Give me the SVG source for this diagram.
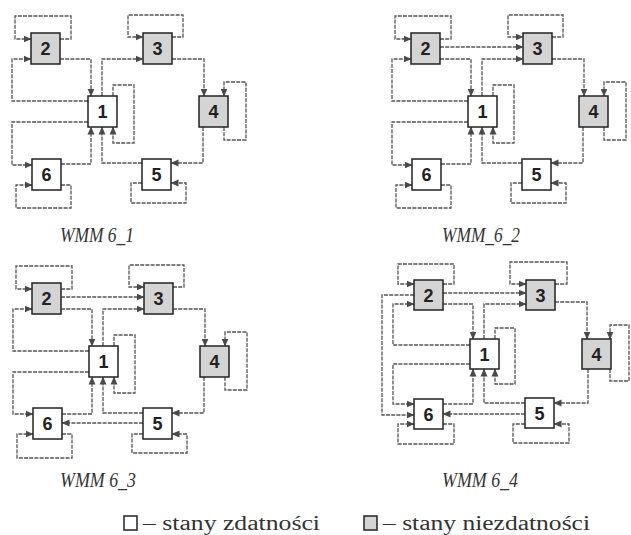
<svg xmlns="http://www.w3.org/2000/svg" width="631" height="535" viewBox="0 0 631 535">
<defs>
<marker id="ah" markerUnits="userSpaceOnUse" markerWidth="8" markerHeight="8" refX="7.5" refY="4" orient="auto">
<path d="M0,0.5 L8,4 L0,7.5 z" fill="#4a4a4a"/>
</marker>
</defs>
<style>
.c{fill:none;stroke:#555;stroke-width:1.3;stroke-dasharray:4 1.2;marker-end:url(#ah)}
.w{fill:#fff;stroke:#222;stroke-width:1.5}
.g{fill:#d4d4d4;stroke:#222;stroke-width:1.5}
.n{font-family:"Liberation Sans",Arial,sans-serif;font-weight:bold;font-size:18px;fill:#222;text-anchor:middle}
.cap{font-family:"Liberation Serif","Times New Roman",serif;font-style:italic;font-size:20px;fill:#333}
.leg{font-family:"Liberation Serif","Times New Roman",serif;font-size:20px;fill:#333}
</style>
<rect width="631" height="535" fill="#fff"/>

<!-- Quadrant 1 -->
<g id="q1">
<g id="q1-connectors">
<path class="c" d="M60,39 H71 V16 H15 V39 H31"/>
<path class="c" d="M60,59 H91 V96"/>
<path class="c" d="M88,101 H12 V59 H31"/>
<path class="c" d="M102,96 V59 H143"/>
<path class="c" d="M172,37 H183 V15 H128 V37 H143"/>
<path class="c" d="M172,59 H204 V96"/>
<path class="c" d="M224,127 V140 H246 V82 H224 V96"/>
<path class="c" d="M203,127 V163 H171"/>
<path class="c" d="M142,183 H131 V203 H186 V183 H171"/>
<path class="c" d="M142,163 H102 V127"/>
<path class="c" d="M113,96 V85 H134 V143 H113 V127"/>
<path class="c" d="M88,122 H12 V165 H32"/>
<path class="c" d="M61,185 H71 V208 H16 V185 H32"/>
<path class="c" d="M61,164 H91 V127"/>
</g>
<g id="q1-n1"><rect class="w" x="88" y="96" width="29" height="31"/><text class="n" x="102.5" y="118">1</text></g>
<g id="q1-n2"><rect class="g" x="31" y="33" width="29" height="31"/><text class="n" x="45.5" y="55">2</text></g>
<g id="q1-n3"><rect class="g" x="143" y="33" width="29" height="31"/><text class="n" x="157.5" y="55">3</text></g>
<g id="q1-n4"><rect class="g" x="199" y="96" width="29" height="31"/><text class="n" x="213.5" y="118">4</text></g>
<g id="q1-n5"><rect class="w" x="142" y="159" width="29" height="31"/><text class="n" x="156.5" y="181">5</text></g>
<g id="q1-n6"><rect class="w" x="32" y="159" width="29" height="31"/><text class="n" x="46.5" y="181">6</text></g>
<text class="cap" x="60" y="242" textLength="74" lengthAdjust="spacingAndGlyphs">WMM 6_1</text>
</g>

<!-- Quadrant 2 -->
<g id="q2" transform="translate(380,0)">
<g id="q2-connectors">
<path class="c" d="M60,39 H71 V16 H15 V39 H31"/>
<path class="c" d="M60,59 H91 V96"/>
<path class="c" d="M60,47 H143"/>
<path class="c" d="M88,101 H12 V59 H31"/>
<path class="c" d="M102,96 V59 H143"/>
<path class="c" d="M172,37 H183 V15 H128 V37 H143"/>
<path class="c" d="M172,59 H204 V96"/>
<path class="c" d="M224,127 V140 H246 V82 H224 V96"/>
<path class="c" d="M203,127 V163 H171"/>
<path class="c" d="M142,183 H131 V203 H186 V183 H171"/>
<path class="c" d="M142,163 H102 V127"/>
<path class="c" d="M113,96 V85 H134 V143 H113 V127"/>
<path class="c" d="M88,122 H12 V165 H32"/>
<path class="c" d="M61,185 H71 V208 H16 V185 H32"/>
<path class="c" d="M61,164 H91 V127"/>
</g>
<g id="q2-n1"><rect class="w" x="88" y="96" width="29" height="31"/><text class="n" x="102.5" y="118">1</text></g>
<g id="q2-n2"><rect class="g" x="31" y="33" width="29" height="31"/><text class="n" x="45.5" y="55">2</text></g>
<g id="q2-n3"><rect class="g" x="143" y="33" width="29" height="31"/><text class="n" x="157.5" y="55">3</text></g>
<g id="q2-n4"><rect class="g" x="199" y="96" width="29" height="31"/><text class="n" x="213.5" y="118">4</text></g>
<g id="q2-n5"><rect class="w" x="142" y="159" width="29" height="31"/><text class="n" x="156.5" y="181">5</text></g>
<g id="q2-n6"><rect class="w" x="32" y="159" width="29" height="31"/><text class="n" x="46.5" y="181">6</text></g>
<text class="cap" x="62" y="242" textLength="78" lengthAdjust="spacingAndGlyphs">WMM_6_2</text>
</g>

<!-- Quadrant 3 -->
<g id="q3" transform="translate(1,250)">
<g id="q3-connectors">
<path class="c" d="M60,39 H71 V16 H15 V39 H31"/>
<path class="c" d="M60,59 H91 V96"/>
<path class="c" d="M60,47 H143"/>
<path class="c" d="M88,101 H12 V59 H31"/>
<path class="c" d="M102,96 V59 H143"/>
<path class="c" d="M172,37 H183 V15 H128 V37 H143"/>
<path class="c" d="M172,59 H204 V96"/>
<path class="c" d="M224,127 V140 H246 V82 H224 V96"/>
<path class="c" d="M203,127 V163 H171"/>
<path class="c" d="M142,184 H131 V203 H186 V184 H171"/>
<path class="c" d="M142,163 H102 V127"/>
<path class="c" d="M142,173 H61"/>
<path class="c" d="M113,96 V85 H134 V143 H113 V127"/>
<path class="c" d="M88,122 H12 V164 H32"/>
<path class="c" d="M61,184 H71 V208 H16 V184 H32"/>
<path class="c" d="M61,164 H91 V127"/>
</g>
<g id="q3-n1"><rect class="w" x="88" y="96" width="29" height="31"/><text class="n" x="102.5" y="118">1</text></g>
<g id="q3-n2"><rect class="g" x="31" y="33" width="29" height="31"/><text class="n" x="45.5" y="55">2</text></g>
<g id="q3-n3"><rect class="g" x="143" y="33" width="29" height="31"/><text class="n" x="157.5" y="55">3</text></g>
<g id="q3-n4"><rect class="g" x="199" y="96" width="29" height="31"/><text class="n" x="213.5" y="118">4</text></g>
<g id="q3-n5"><rect class="w" x="142" y="158" width="29" height="31"/><text class="n" x="156.5" y="180">5</text></g>
<g id="q3-n6"><rect class="w" x="32" y="158" width="29" height="31"/><text class="n" x="46.5" y="180">6</text></g>
<text class="cap" x="59" y="237" textLength="76" lengthAdjust="spacingAndGlyphs">WMM 6_3</text>
</g>

<!-- Quadrant 4 -->
<g id="q4">
<g id="q4-connectors">
<path class="c" d="M443,284 H454 V264 H398 V284 H414"/>
<path class="c" d="M443,293 H526"/>
<path class="c" d="M443,304 H473 V339"/>
<path class="c" d="M484,339 V304 H526"/>
<path class="c" d="M555,284 H567 V262 H510 V284 H526"/>
<path class="c" d="M555,302 H587 V339"/>
<path class="c" d="M610,369 V381 H629 V325 H610 V339"/>
<path class="c" d="M588,369 V403 H554"/>
<path class="c" d="M525,424 H513 V443 H569 V424 H554"/>
<path class="c" d="M525,403 H484 V369"/>
<path class="c" d="M525,414 H443"/>
<path class="c" d="M495,339 V328 H515 V384 H495 V369"/>
<path class="c" d="M443,404 H473 V369"/>
<path class="c" d="M470,345 H393 V304 H414"/>
<path class="c" d="M470,364 H393 V404 H414"/>
<path class="c" d="M414,295 H382 V415 H414"/>
<path class="c" d="M443,424 H454 V444 H398 V424 H414"/>
</g>
<g id="q4-n1"><rect class="w" x="470" y="339" width="29" height="30"/><text class="n" x="484.5" y="360.5">1</text></g>
<g id="q4-n2"><rect class="g" x="414" y="280" width="29" height="30"/><text class="n" x="428.5" y="301.5">2</text></g>
<g id="q4-n3"><rect class="g" x="526" y="280" width="29" height="30"/><text class="n" x="540.5" y="301.5">3</text></g>
<g id="q4-n4"><rect class="g" x="582" y="339" width="29" height="30"/><text class="n" x="596.5" y="360.5">4</text></g>
<g id="q4-n5"><rect class="w" x="525" y="398" width="29" height="30"/><text class="n" x="539.5" y="419.5">5</text></g>
<g id="q4-n6"><rect class="w" x="414" y="399" width="29" height="30"/><text class="n" x="428.5" y="420.5">6</text></g>
<text class="cap" x="442" y="487" textLength="76" lengthAdjust="spacingAndGlyphs">WMM 6_4</text>
</g>

<!-- Legend -->
<g id="legend">
<rect class="w" x="124" y="516" width="13" height="14" stroke-width="1.2"/>
<text class="leg" x="143" y="530" textLength="177" lengthAdjust="spacingAndGlyphs">– stany zdatności</text>
<rect class="g" x="364" y="516" width="13" height="14" stroke-width="1.2"/>
<text class="leg" x="383" y="530" textLength="207" lengthAdjust="spacingAndGlyphs">– stany niezdatności</text>
</g>
</svg>
